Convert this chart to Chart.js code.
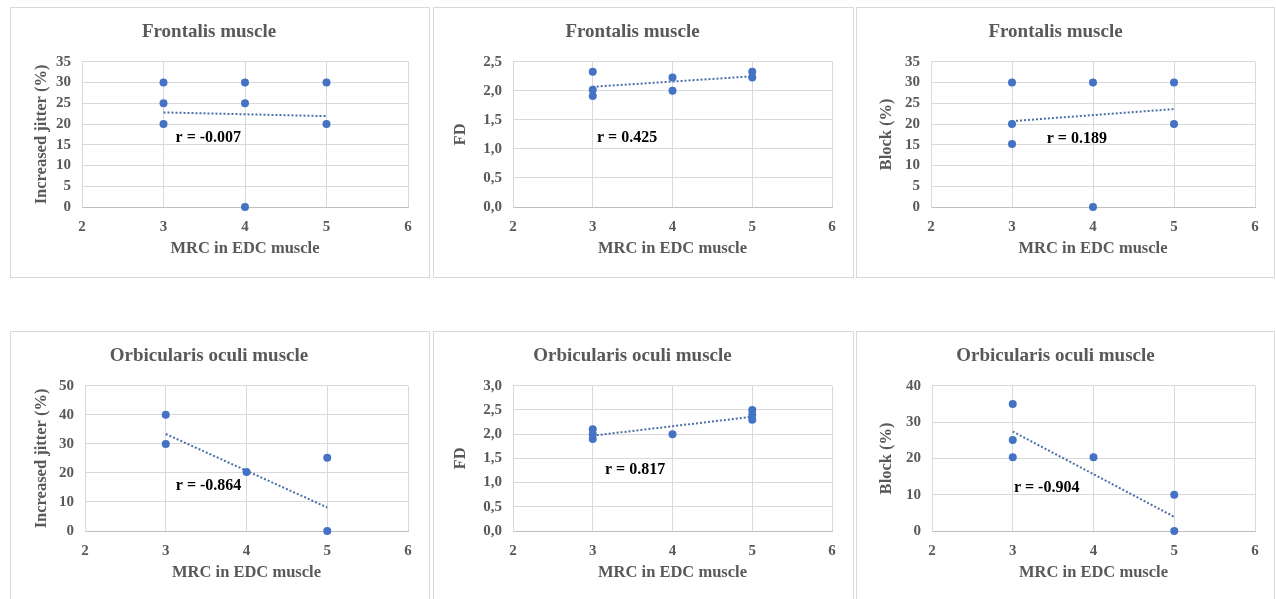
<!DOCTYPE html>
<html lang="en">
<head>
  <meta charset="UTF-8">
  <title>MRC in EDC muscle vs SFEMG parameters</title>
  <script src="https://cdn.jsdelivr.net/npm/chart.js"></script>
  <style>
    html, body {
      margin: 0;
      padding: 0;
      background: #fff;
      overflow: hidden;
    }
    .panel {
      position: absolute;
      background: #fff;
      box-shadow: inset 0 0 0 1px #d9d9d9;
    }
  </style>
</head>
<body>
  <div class="panel" style="left:10px;top:7px;width:420px;height:271px"><canvas id="c1"></canvas></div>
  <div class="panel" style="left:433px;top:7px;width:421px;height:271px"><canvas id="c2"></canvas></div>
  <div class="panel" style="left:856px;top:7px;width:419px;height:271px"><canvas id="c3"></canvas></div>
  <div class="panel" style="left:10px;top:331px;width:420px;height:271px"><canvas id="c4"></canvas></div>
  <div class="panel" style="left:433px;top:331px;width:421px;height:271px"><canvas id="c5"></canvas></div>
  <div class="panel" style="left:856px;top:331px;width:419px;height:271px"><canvas id="c6"></canvas></div>

  <script>
    // x axis is the same everywhere
    const mrcTicks = [2, 3, 4, 5, 6];
    const trendX = [3, 5];

    // Frontalis - increased jitter
    const frJitterX = [3, 3, 3, 4, 4, 4, 5, 5];
    const frJitterY = [30, 25, 20, 30, 25, 0, 30, 20];
    const frJitterTrend = [22.8, 21.9];
    const frJitterTicks = [0, 5, 10, 15, 20, 25, 30, 35];

    // Frontalis - FD
    const frFdX = [3, 3, 3, 4, 4, 5, 5];
    const frFdY = [2.33, 2.02, 1.91, 2.23, 2.0, 2.33, 2.23];
    const frFdTrend = [2.07, 2.25];
    const frFdTicks = [0, 0.5, 1, 1.5, 2, 2.5];

    // Frontalis - block
    const frBlockX = [3, 3, 3, 4, 4, 5, 5];
    const frBlockY = [30, 20, 15.2, 30, 0, 30, 20];
    const frBlockTrend = [20.7, 23.6];
    const frBlockTicks = [0, 5, 10, 15, 20, 25, 30, 35];

    // Orbicularis oculi - increased jitter
    const ooJitterX = [3, 3, 4, 5, 5];
    const ooJitterY = [40, 30, 20.3, 25.2, 0];
    const ooJitterTrend = [33.4, 8.1];
    const ooJitterTicks = [0, 10, 20, 30, 40, 50];

    // Orbicularis oculi - FD
    const ooFdX = [3, 3, 3, 4, 5, 5, 5];
    const ooFdY = [2.1, 2.0, 1.9, 2.0, 2.5, 2.4, 2.3];
    const ooFdTrend = [1.97, 2.36];
    const ooFdTicks = [0, 0.5, 1, 1.5, 2, 2.5, 3];

    // Orbicularis oculi - block
    const ooBlockX = [3, 3, 3, 4, 5, 5];
    const ooBlockY = [35, 25.1, 20.3, 20.3, 10, 0];
    const ooBlockTrend = [27.4, 3.9];
    const ooBlockTicks = [0, 10, 20, 30, 40];

    // correlation labels, placed in data coordinates
    const rTexts = ['r = -0.007', 'r = 0.425', 'r = 0.189', 'r = -0.864', 'r = 0.817', 'r = -0.904'];
    const rX = [3.55, 3.43, 3.8, 3.53, 3.53, 3.42];
    const rY = [16.7, 1.19, 16.4, 15.7, 1.26, 12.0];

    const serif = '"Liberation Serif", "Times New Roman", serif';
    const grey = '#595959';
    const blue = '#4472C4';

    // draws the "r = ..." text inside the plot
    const rLabelPlugin = {
      id: 'rLabel',
      afterDatasetsDraw(chart, args, opts) {
        const ctx = chart.ctx;
        const x = chart.scales.x.getPixelForValue(opts.x);
        const y = chart.scales.y.getPixelForValue(opts.y);
        ctx.save();
        ctx.font = 'bold 16px ' + serif;
        ctx.fillStyle = '#000';
        ctx.textAlign = 'center';
        ctx.textBaseline = 'middle';
        ctx.fillText(opts.text, x, y);
        ctx.restore();
      }
    };

    function makeChart(id, title, yTitle, xs, ys, trend, yTicks, decimals, idx, plotLeft, padRight, yTitlePad) {
      const ctx = document.getElementById(id).getContext('2d');
      new Chart(ctx, {
        type: 'scatter',
        data: {
          datasets: [
            {
              data: xs.map((x, i) => ({ x: x, y: ys[i] })),
              backgroundColor: blue,
              borderWidth: 0,
              pointRadius: 4,
              clip: false
            },
            {
              data: trendX.map((x, i) => ({ x: x, y: trend[i] })),
              showLine: true,
              borderColor: '#4a6ea8',
              borderWidth: 2,
              borderDash: [2, 2],
              pointRadius: 0,
              fill: false,
              clip: false
            }
          ]
        },
        options: {
          responsive: true,
          maintainAspectRatio: false,
          animation: false,
          layout: { padding: { left: 0, right: padRight, top: 0, bottom: 0 } },
          plugins: {
            legend: { display: false },
            tooltip: { enabled: false },
            title: {
              display: true,
              text: title,
              color: grey,
              font: { family: serif, size: 19, weight: 'bold' },
              padding: { top: 14, bottom: 18 }
            },
            rLabel: { text: rTexts[idx], x: rX[idx], y: rY[idx] }
          },
          scales: {
            x: {
              type: 'linear',
              min: 2,
              max: 6,
              afterBuildTicks: s => { s.ticks = mrcTicks.map(v => ({ value: v })); },
              afterFit: s => { s.height = 71; },
              grid: { color: '#d9d9d9', drawTicks: false },
              border: { color: '#bfbfbf' },
              ticks: {
                color: grey,
                padding: 11,
                autoSkip: false,
                maxRotation: 0,
                font: { family: serif, size: 15, weight: 'bold' }
              },
              title: {
                display: true,
                text: 'MRC in EDC muscle',
                color: grey,
                font: { family: serif, size: 16.5, weight: 'bold' },
                padding: { top: 0, bottom: 19 }
              }
            },
            y: {
              type: 'linear',
              min: yTicks[0],
              max: yTicks[yTicks.length - 1],
              afterBuildTicks: s => { s.ticks = yTicks.map(v => ({ value: v })); },
              afterFit: s => { s.width = plotLeft; },
              grid: { color: '#d9d9d9', drawTicks: false },
              border: { color: '#d9d9d9' },
              ticks: {
                color: grey,
                padding: 11,
                autoSkip: false,
                font: { family: serif, size: 15, weight: 'bold' },
                callback: v => decimals ? v.toFixed(1).replace('.', ',') : v
              },
              title: {
                display: true,
                text: yTitle,
                color: grey,
                font: { family: serif, size: 16.5, weight: 'bold' },
                padding: { top: yTitlePad, bottom: 0 }
              }
            }
          }
        },
        plugins: [rLabelPlugin]
      });
    }

    makeChart('c1', 'Frontalis muscle', 'Increased jitter (%)', frJitterX, frJitterY, frJitterTrend, frJitterTicks, false, 0, 72, 22, 22);
    makeChart('c2', 'Frontalis muscle', 'FD', frFdX, frFdY, frFdTrend, frFdTicks, true, 1, 80, 22, 18);
    makeChart('c3', 'Frontalis muscle', 'Block (%)', frBlockX, frBlockY, frBlockTrend, frBlockTicks, false, 2, 75, 20, 21);
    makeChart('c4', 'Orbicularis oculi muscle', 'Increased jitter (%)', ooJitterX, ooJitterY, ooJitterTrend, ooJitterTicks, false, 3, 75, 22, 22);
    makeChart('c5', 'Orbicularis oculi muscle', 'FD', ooFdX, ooFdY, ooFdTrend, ooFdTicks, true, 4, 80, 22, 18);
    makeChart('c6', 'Orbicularis oculi muscle', 'Block (%)', ooBlockX, ooBlockY, ooBlockTrend, ooBlockTicks, false, 5, 76, 20, 21);
  </script>
</body>
</html>
